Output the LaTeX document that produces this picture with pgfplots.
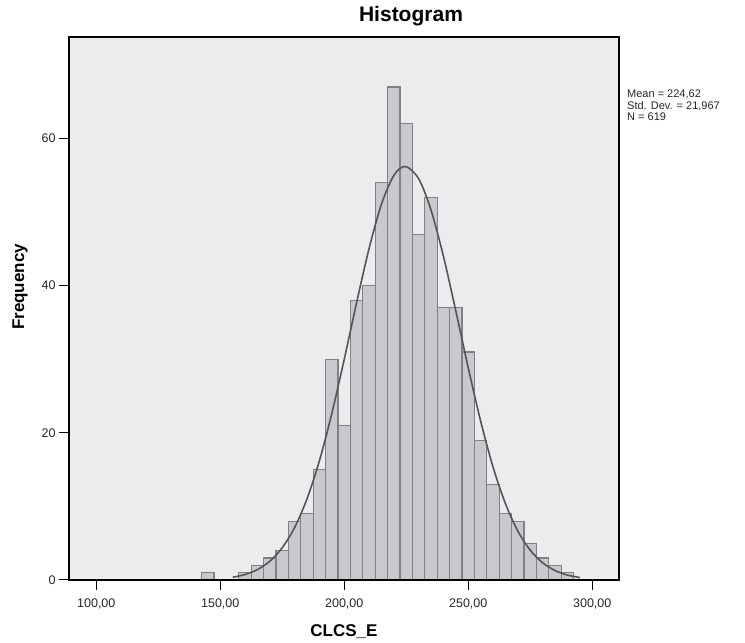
\documentclass[border=0pt]{standalone}
\usepackage{pgfplots}
\pgfplotsset{compat=1.18}
\usepackage{fontspec}
\setmainfont{Liberation Sans}
\definecolor{bgc}{RGB}{235,236,238}
\definecolor{barfill}{RGB}{200,201,204}
\definecolor{baredge}{RGB}{128,129,132}
\definecolor{curvec}{RGB}{85,85,88}
\begin{document}
\begin{tikzpicture}
\useasboundingbox (0,0) rectangle (745pt,643pt);
\begin{axis}[
  at={(69pt,63pt)}, anchor=south west,
  scale only axis, width=550pt, height=543pt,
  xmin=89, xmax=310.8, ymin=0, ymax=73.8,
  axis background/.style={fill=bgc},
  axis on top,
  xtick={100,150,200,250,300},
  xticklabels={{100,00},{150,00},{200,00},{250,00},{300,00}},
  ytick={0,20,40,60}, yticklabels={0,20,40,60},
  tick align=outside, major tick length=10pt,
  tick style={black, line width=1pt},
  tick pos=left,
  axis line style={black, line width=1.2pt},
  ticklabel style={font=\fontsize{12.5}{14}\selectfont, text=black!85},
  xticklabel style={yshift=-5pt},
  /pgf/number format/assume math mode=true,
]
\addplot[ybar, bar width=5, bar shift=0pt, fill=barfill, draw=baredge, line width=1.2pt] coordinates {
(145,1) (160,1) (165,2) (170,3) (175,4) (180,8) (185,9) (190,15) (195,30)
(200,21) (205,38) (210,40) (215,54) (220,67) (225,62) (230,47) (235,52)
(240,37) (245,37) (250,31) (255,19) (260,13) (265,9) (270,8) (275,5)
(280,3) (285,2) (290,1)
};
\addplot[curvec, line width=1.6pt, smooth, no marks] coordinates {
(155,0.371) (160,0.742) (165,1.414) (170,2.554) (175,4.384) (180,7.145)
(185,11.05) (190,16.23) (195,22.65) (200,30.00) (205,37.72) (210,45.04)
(215,51.07) (220,54.98) (224.62,56.21) (230,54.55) (235,50.27) (240,43.99)
(245,36.55) (250,28.84) (255,21.60) (260,15.36) (265,10.38) (270,6.655)
(275,4.052) (280,2.342) (285,1.286) (290,0.670) (295,0.332)
};
\end{axis}
\node[anchor=base, font=\fontsize{21}{24}\selectfont\bfseries] at (411pt,621pt) {Histogram};
\node[anchor=base, rotate=90, font=\fontsize{17}{20}\selectfont\bfseries] at (24pt,356pt) {Frequency};
\node[anchor=base, font=\fontsize{17}{20}\selectfont\bfseries] at (344pt,6pt) {CLCS\_E};
\node[anchor=north west, inner sep=0pt, align=left, text=black!85, font=\fontsize{11}{11.5}\selectfont] at (627pt,553pt) {Mean = 224,62\\Std. Dev. = 21,967\\N = 619};
\end{tikzpicture}
\end{document}
